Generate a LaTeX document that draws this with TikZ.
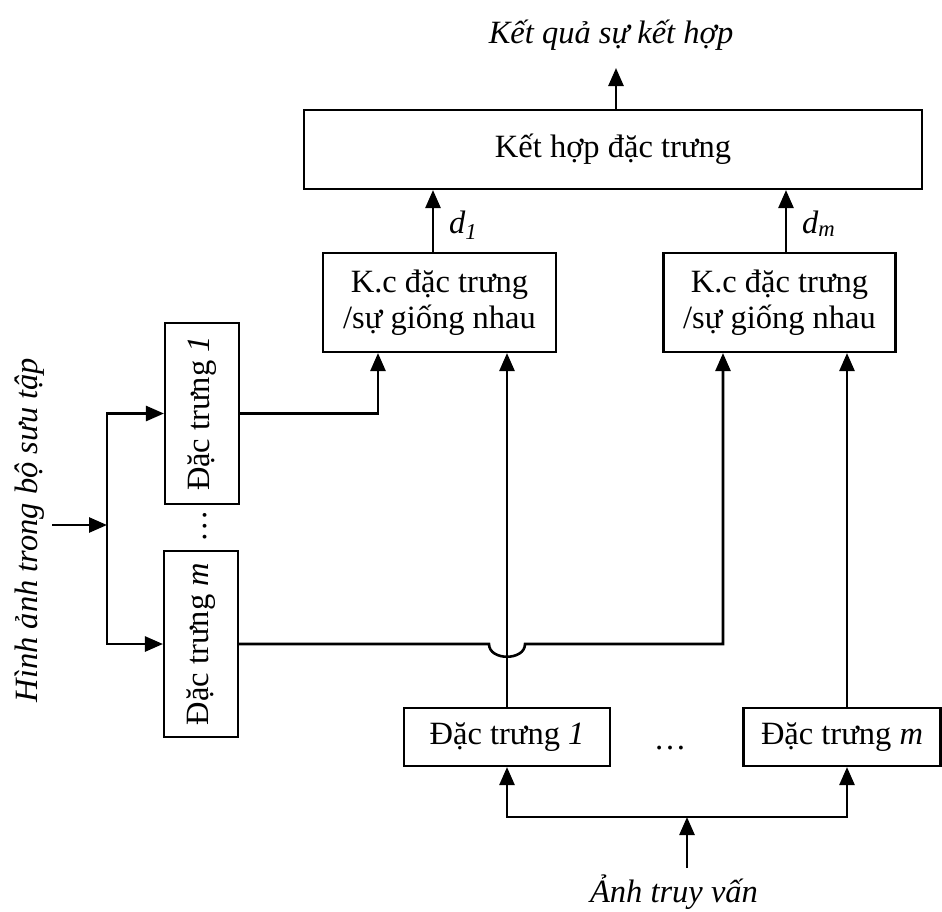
\documentclass[tikz,border=0pt]{standalone}
\usepackage{fontspec}
\usepackage{graphicx}
\setmainfont{Liberation Serif}
\usetikzlibrary{arrows.meta,calc}

\tikzset{
  txt/.style={font=\fontsize{32.5}{35.5}\selectfont, inner sep=0pt},
  blk/.style={txt, draw, line width=2.1pt, align=center},
  arr/.style={line width=2.6pt, -{Triangle[length=18pt,width=15pt]}},
}

\begin{document}
\begin{tikzpicture}[x=1pt,y=-1pt]
\useasboundingbox (0,0) rectangle (942,911);

% blocks
\node[blk, minimum width=618, minimum height=79] (comb) at (613,149.5) {Kết hợp đặc trưng};
\node[blk, minimum width=233, minimum height=99] (kc1) at (439.5,302.5) {K.c đặc trưng\\/sự giống nhau};
\node[blk, minimum width=232, minimum height=99] (kc2) at (779.5,302.5) {K.c đặc trưng\\/sự giống nhau};
\node[blk, minimum width=74, minimum height=181] (f1) at (202,413.5) {\rotatebox{90}{Đặc trưng \textit{1}}};
\node[blk, minimum width=74, minimum height=186] (fm) at (201,644) {\rotatebox{90}{Đặc trưng \textit{m}}};
\node[blk, minimum width=206, minimum height=58] (q1) at (507,737) {Đặc trưng \textit{1}};
\node[blk, minimum width=197, minimum height=58] (qm) at (842,737) {Đặc trưng \textit{m}};

% free labels
\node[txt, anchor=base] (res) at (611,43) {\textit{Kết quả sự kết hợp}};
\node[txt, anchor=base] (qlab) at (674,902) {\textit{Ảnh truy vấn}};
\node[txt, anchor=base, rotate=90] (clab) at (37,530) {\textit{Hình ảnh trong bộ sưu tập}};
\node[txt, anchor=base west] (d1) at (449,233) {\textit{d\textsubscript{1}}};
\node[txt, anchor=base west] (dm) at (802,233) {\textit{d\textsubscript{m}}};
\node[txt, rotate=90] (ldots) at (205,526) {\dots};
\node[txt, anchor=base] (bdots) at (670,749) {\dots};

% free ends and branch points
\coordinate (resin) at (616,68);
\coordinate (qin) at (687,868);
\coordinate (qsplit) at (687,817);
\coordinate (cin) at (52,525);
\coordinate (csplit) at (107,525);
\coordinate (jmp) at (q1.north |- fm.east);

% output
\draw[arr] (comb.north -| resin) -- (resin);

% distances into the combiner
\draw[arr] ([xshift=-6.5pt]kc1.north) -- ([xshift=-6.5pt]kc1.north |- comb.south);
\draw[arr] ([xshift=6.5pt]kc2.north) -- ([xshift=6.5pt]kc2.north |- comb.south);

% collection image features
\draw[arr] (cin) -- (csplit);
\draw[arr] (csplit) |- (f1.west);
\draw[arr] (csplit) |- (fm.west);
\draw[arr] (f1.east) -| ([xshift=-61.5pt]kc1.south);
\draw[arr] (fm.east) -- ([xshift=-18pt]jmp)
  .. controls ([xshift=-18pt,yshift=-17pt]jmp) and ([xshift=18pt,yshift=-17pt]jmp) .. ([xshift=18pt]jmp)
  -| ([xshift=-56.5pt]kc2.south);

% query image features
\draw[arr] (q1.north) -- (q1.north |- kc1.south);
\draw[arr] ([xshift=5pt]qm.north) -- ([xshift=5pt]qm.north |- kc2.south);
\draw[arr] (qin) -- (qsplit);
\draw[arr] (qsplit) -| (q1.south);
\draw[arr] (qsplit) -| ([xshift=5pt]qm.south);
\end{tikzpicture}
\end{document}
